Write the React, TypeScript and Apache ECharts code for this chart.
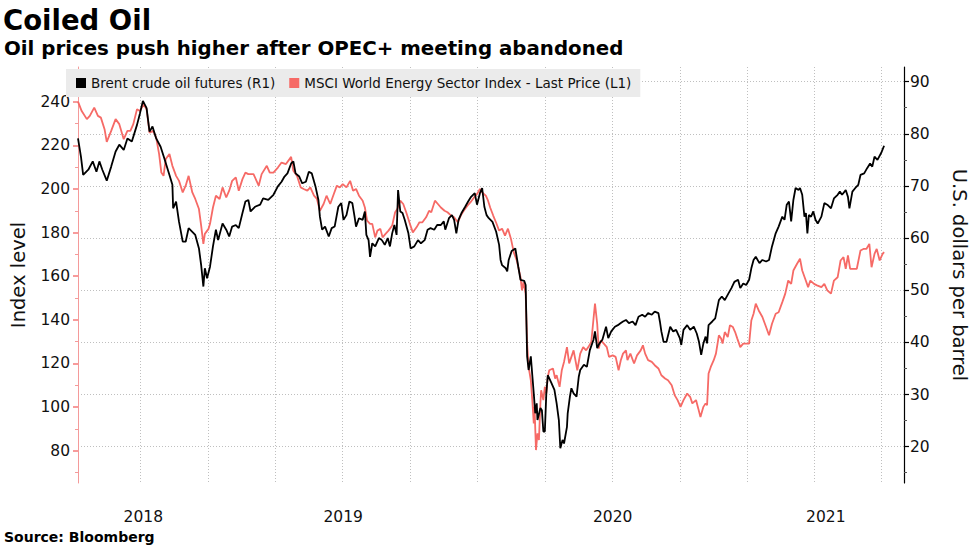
import React, { useEffect, useRef } from "react";
import * as echarts from "echarts";

// ---- data ----
const baseDate = "2018-07-08"; // day offsets below are counted from this date
const axisStart = "2018-07-08";
const axisEnd = "2021-08-01";

const brentDays = [
  0, 4, 7, 14, 20, 25, 29, 33, 39, 45, 51, 56, 62, 67, 73, 80, 84, 88, 93, 97, 101, 106, 112, 117, 124, 128, 129, 133, 137, 142, 146, 150, 155, 159, 164, 167, 170, 172, 175,
  179, 183, 187, 190, 196, 201, 205, 209, 214, 218, 223, 227, 231, 234, 240, 247, 251, 258, 265, 271, 276, 280, 284, 289, 292, 295, 300, 304, 309, 313, 317, 322, 326, 328, 331, 335, 340, 344, 348, 353, 357, 360, 364, 368,
  372, 375, 377, 381, 386, 389, 391, 394, 396, 399, 403, 408, 412, 416, 420, 423, 426, 429, 432, 434, 437, 440, 443, 448, 451, 456, 461, 465, 470, 474, 478, 483, 487, 492, 496, 498, 503, 507, 510, 513, 516, 520, 525, 529, 533, 538, 541, 545, 548, 551, 554, 557, 562, 567, 571,
  573, 575, 580, 582, 584, 588, 593, 597, 600, 605, 607, 609, 611, 614, 616, 618, 620, 622, 623, 627, 629, 631, 633, 635, 637, 642, 646, 649, 652, 654, 657, 659, 663, 664, 667, 669, 672, 676, 679, 681, 686, 690, 694, 699, 701, 704, 707, 711, 716, 719, 723, 728, 732, 736, 739,
  743, 747, 752, 756, 760, 765, 769, 773, 778, 782, 787, 789, 791, 794, 798, 803, 807, 811, 816, 818, 821, 826, 830, 835, 839, 842, 845, 848, 851, 853, 855, 860, 864, 869, 873, 877, 882, 886, 890, 895, 898, 902, 906, 910, 913, 916,
  919, 924, 928, 933, 937, 941, 946, 950, 955, 958, 961, 964, 967, 970, 973, 977, 979, 982, 985, 987, 989, 991, 994, 997, 1000, 1003, 1008, 1012, 1016, 1021, 1025, 1030, 1033, 1036, 1041, 1044, 1046, 1050, 1054, 1058, 1061, 1066, 1070, 1074, 1077, 1080, 1084, 1089, 1093,
];
const brentValues = [
  79.1, 75.6, 72.1, 73.1, 74.7, 72.7, 74.7, 73.1, 71.0, 73.7, 76.6, 77.9, 76.9, 79.1, 78.5, 81.7, 83.9, 86.3, 84.9, 80.4, 81.4, 79.1, 77.5, 75.3, 72.1, 70.2, 65.7, 67.0, 63.1, 59.3, 59.3, 61.9, 61.2, 60.6, 58.0, 54.8, 50.7, 54.2, 52.3,
  54.5, 58.4, 61.6, 59.6, 62.8, 61.6, 60.3, 62.2, 62.5, 61.9, 64.8, 67.0, 67.3, 65.1, 66.0, 66.4, 67.6, 67.3, 68.3, 69.9, 70.8, 71.8, 72.4, 74.3, 74.7, 72.4, 71.8, 70.5, 70.8, 72.7, 72.4, 69.9, 67.3, 64.1, 61.6, 62.2, 60.3, 61.9, 62.2, 66.0, 66.7, 63.5, 64.4, 67.0,
  66.7, 64.1, 62.2, 63.8, 63.5, 65.1, 60.6, 59.6, 56.4, 59.0, 58.4, 60.0, 59.6, 58.7, 60.0, 58.4, 60.9, 62.5, 60.6, 69.2, 65.1, 64.8, 63.5, 60.9, 58.0, 58.4, 59.6, 59.0, 59.6, 61.6, 61.9, 61.6, 62.5, 62.5, 63.2, 61.6, 63.8, 64.4, 63.5, 60.9, 63.5, 64.8, 66.0, 67.0, 67.9, 68.6, 66.4, 68.6, 69.6, 66.0, 64.4, 63.8, 63.1, 61.2, 58.7,
  55.8, 54.8, 54.2, 53.6, 55.8, 57.5, 58.0, 54.5, 52.0, 51.8, 51.0, 37.3, 34.7, 37.3, 33.7, 30.2, 26.4, 28.3, 25.1, 27.4, 27.0, 22.9, 22.9, 30.2, 33.7, 32.2, 30.9, 28.3, 25.1, 19.7, 21.3, 20.6, 23.8, 26.4, 29.6, 31.2, 30.2, 29.6, 33.4, 34.7, 35.7, 35.3, 38.5, 40.5, 42.1, 38.9, 39.8, 40.5, 43.0, 40.8, 42.1, 43.0, 43.3, 43.7, 44.0,
  44.3, 43.7, 44.0, 43.3, 44.9, 45.3, 44.9, 45.6, 45.3, 45.9, 45.6, 44.0, 42.1, 40.1, 40.1, 43.0, 42.1, 42.4, 40.8, 39.5, 42.4, 43.3, 42.4, 43.0, 41.7, 40.1, 37.6, 39.8, 41.1, 39.8, 43.3, 44.0, 44.6, 48.1, 48.8, 48.1, 49.4, 50.4, 51.6, 52.0, 50.4, 51.3, 51.0, 52.0, 54.2, 55.8,
  56.4, 55.2, 55.8, 55.5, 55.8, 58.4, 60.9, 62.2, 64.1, 63.5, 66.4, 67.0, 63.2, 67.3, 69.6, 69.2, 69.6, 68.3, 64.1, 64.8, 60.9, 64.4, 64.1, 65.1, 63.5, 62.8, 64.1, 66.7, 66.4, 65.7, 67.6, 68.3, 68.9, 68.3, 69.2, 67.9, 65.7, 68.9, 69.6, 70.2, 72.1, 72.4, 73.4, 74.3, 73.7, 75.6, 75.0, 76.3, 77.7,
];

const msciDays = [
  0, 5, 12, 16, 22, 27, 31, 36, 39, 45, 51, 56, 62, 67, 71, 75, 80, 84, 89, 93, 97, 102, 106, 110, 113, 116, 119, 124, 128, 133, 137, 142, 146, 150, 155, 159, 164, 167, 170, 172, 177,
  179, 183, 187, 192, 196, 201, 205, 209, 214, 218, 223, 227, 231, 238, 245, 249, 256, 260, 265, 271, 276, 282, 289, 292, 297, 302, 306, 311, 315, 320, 324, 328, 333, 337, 342, 346, 351, 355, 359, 364,
  369, 373, 377, 381, 386, 389, 392, 396, 399, 403, 406, 410, 413, 417, 421, 426, 430, 433, 437, 441, 445, 450, 454, 459, 463, 467, 472, 476, 479, 484, 488, 492, 497, 501, 506, 510, 515, 519, 523, 528, 532, 537, 541, 545, 548, 553, 556, 559, 563, 567, 571, 575, 579, 583, 587, 591,
  595, 600, 602, 604, 607, 609, 611, 614, 616, 618, 619, 621, 623, 625, 627, 628, 631, 633, 635, 637, 639, 644, 647, 649, 653, 656, 659, 663, 666, 669, 672, 677, 681, 685, 689, 692, 696, 699, 701, 704, 706, 709, 713, 717, 720, 725, 729, 733, 736, 739,
  743, 745, 749, 754, 758, 763, 766, 769, 773, 778, 782, 787, 791, 796, 800, 805, 809, 813, 817, 821, 826, 830, 833, 838, 841, 844, 848, 851, 853, 855, 858, 862, 865, 869, 872, 874, 877, 881, 884, 888, 891, 894, 898, 902, 906, 910, 913, 916, 919, 923,
  928, 933, 937, 941, 946, 950, 955, 959, 963, 967, 970, 975, 979, 982, 986, 990, 993, 998, 1002, 1008, 1012, 1016, 1021, 1025, 1030, 1034, 1038, 1041, 1044, 1047, 1052, 1056, 1061, 1065, 1069, 1073, 1076, 1080, 1083, 1087, 1091, 1093,
];
const msciValues = [
  240.0, 235.7, 232.0, 233.5, 237.3, 233.5, 232.7, 227.4, 221.6, 226.6, 232.0, 229.7, 222.8, 226.6, 226.6, 229.7, 236.5, 235.7, 238.8, 236.5, 225.8, 226.6, 223.5, 216.0, 207.5, 206.0, 213.7, 216.0, 210.6, 206.0, 203.7, 198.4, 201.5, 206.0, 198.4, 195.4, 190.8, 183.2, 174.8, 179.4, 181.7,
  184.0, 191.5, 196.9, 195.4, 200.7, 196.1, 199.2, 203.7, 205.3, 199.2, 204.5, 207.5, 206.8, 206.8, 201.5, 206.8, 210.6, 207.5, 207.5, 209.8, 212.1, 211.4, 214.7, 208.3, 206.0, 200.7, 200.0, 199.2, 200.7, 196.9, 195.4, 190.0, 193.1, 196.9, 193.1, 196.9, 201.5, 200.7, 202.2, 200.7,
  203.7, 199.2, 200.0, 196.9, 194.6, 191.5, 185.5, 184.0, 184.0, 177.8, 180.9, 181.7, 177.8, 179.4, 180.9, 183.2, 189.3, 190.8, 194.6, 193.1, 189.3, 184.0, 180.1, 182.4, 184.7, 184.7, 187.0, 190.0, 189.3, 194.6, 193.1, 191.5, 190.0, 189.3, 187.8, 187.0, 184.7, 187.8, 190.0, 192.3, 193.8, 196.1, 197.6, 200.0, 198.4, 196.9, 194.6, 191.4, 187.8, 184.5, 180.9, 181.8, 178.6, 181.8, 177.2, 170.8,
  167.2, 159.5, 153.5, 157.3, 152.0, 129.1, 118.4, 112.3, 103.2, 92.5, 100.1, 80.3, 88.0, 84.9, 101.7, 107.7, 103.2, 109.3, 106.2, 113.8, 116.9, 117.7, 113.1, 114.6, 109.3, 116.9, 120.7, 127.5, 120.0, 123.0, 126.0, 116.9, 124.5, 127.5, 126.0, 127.5, 129.8, 140.5, 147.4, 138.2, 126.8, 130.6, 129.1, 127.5, 123.0, 123.7, 123.0, 116.9, 121.5, 124.5,
  126.0, 121.5, 124.5, 120.0, 123.7, 126.0, 128.3, 124.5, 121.5, 120.7, 119.2, 117.7, 114.6, 113.1, 112.3, 110.0, 105.5, 103.2, 100.1, 103.2, 106.2, 104.7, 101.7, 103.2, 99.4, 95.5, 100.1, 101.7, 100.9, 115.4, 118.4, 121.5, 124.5, 132.9, 131.4, 129.1, 134.4, 132.1, 137.5, 136.7, 134.4, 131.4, 127.5, 129.1, 129.1, 129.1, 139.7, 142.8, 147.4, 144.3,
  141.3, 136.7, 132.9, 138.2, 142.8, 143.5, 148.1, 152.0, 158.0, 156.5, 162.6, 165.7, 168.0, 162.6, 158.8, 155.0, 158.0, 156.5, 155.8, 155.0, 156.5, 153.5, 152.0, 158.0, 159.5, 167.2, 168.7, 163.4, 169.5, 163.4, 163.4, 163.4, 171.8, 172.5, 172.5, 174.8, 164.1, 170.2, 172.5, 167.2, 170.2, 171.0,
];

const quarterStarts = [
  "2018-10-01", "2019-01-01", "2019-04-01", "2019-07-01", "2019-10-01", "2020-01-01",
  "2020-04-01", "2020-07-01", "2020-10-01", "2021-01-01", "2021-04-01", "2021-07-01",
];
const years = [2018, 2019, 2020, 2021];
const leftTicks = [80, 100, 120, 140, 160, 180, 200, 220, 240];
const rightTicks = [20, 30, 40, 50, 60, 70, 80, 90];

const titleText = "Coiled Oil";
const subtitleText = "Oil prices push higher after OPEC+ meeting abandoned";
const sourceText = "Source: Bloomberg";
const brentName = "Brent crude oil futures (R1)";
const msciName = "MSCI World Energy Sector Index - Last Price (L1)";

const ts = (s: string) => Date.parse(s + "T00:00:00Z");
const DAY = 86400000;

export default function App() {
  const ref = useRef<HTMLDivElement>(null);
  useEffect(() => {
    if (!ref.current) return;
    const chart = echarts.init(ref.current, undefined, { renderer: "svg" });
    const base = ts(baseDate);
    const startTs = ts(axisStart);
    const endTs = ts(axisEnd);
    const yearMids = years.map((y) => {
      const s = Math.max(Date.UTC(y, 0, 1), startTs);
      const e = Math.min(Date.UTC(y + 1, 0, 1), endTs);
      return (s + e) / 2;
    });
    const font = "DejaVu Sans";
    const gridLine = { color: "#bfbfbf", type: [1, 2], width: 1 };
    const brentData = brentDays.map((d, i) => [base + d * DAY, brentValues[i]]);
    const msciData = msciDays.map((d, i) => [base + d * DAY, msciValues[i]]);

    chart.setOption({
      animation: false,
      backgroundColor: "#ffffff",
      textStyle: { fontFamily: font },
      title: [
        { text: titleText, left: 3, top: 6, padding: 0, textStyle: { fontFamily: font, fontWeight: "bold", fontSize: 27.5, color: "#000" } },
        { text: subtitleText, left: 4, top: 38, padding: 0, textStyle: { fontFamily: font, fontWeight: "bold", fontSize: 19.8, color: "#000" } },
        { text: sourceText, left: 4, top: 530, padding: 0, textStyle: { fontFamily: font, fontWeight: "bold", fontSize: 14, color: "#000" } },
      ],
      legend: {
        left: 66,
        top: 69,
        padding: [7, 9, 7, 10],
        backgroundColor: "#ebebeb",
        icon: "rect",
        itemWidth: 10,
        itemHeight: 10,
        itemGap: 14,
        data: [brentName, msciName],
        textStyle: { fontFamily: font, fontSize: 13.5, color: "#111" },
      },
      grid: { left: 65, right: 65, top: 67, bottom: 66, containLabel: false },
      xAxis: {
        type: "value",
        min: startTs,
        max: endTs,
        axisLine: { show: false },
        axisTick: { show: false, customValues: quarterStarts.map(ts) },
        axisLabel: {
          customValues: yearMids,
          formatter: (v: number) => String(new Date(v).getUTCFullYear()),
          margin: 26,
          fontFamily: font,
          fontSize: 15.5,
          color: "#111",
        },
        splitLine: { show: true, lineStyle: gridLine },
      },
      yAxis: [
        {
          type: "value",
          position: "left",
          min: 65.2,
          max: 255.9,
          minInterval: 20,
          maxInterval: 20,
          name: "Index level",
          nameLocation: "middle",
          nameRotate: 90,
          nameGap: 50,
          nameTextStyle: { fontFamily: font, fontSize: 19.5, color: "#111" },
          axisLine: { show: true, lineStyle: { color: "#f49a9a", width: 1 } },
          axisTick: { show: true, length: 5, customValues: leftTicks, lineStyle: { color: "#f47a7a", width: 1.5 } },
          minorTick: { show: true, splitNumber: 2, length: 3, lineStyle: { color: "#f49a9a", width: 1 } },
          axisLabel: { customValues: leftTicks, margin: 8, fontFamily: font, fontSize: 15.5, color: "#111" },
          splitLine: { show: false },
        },
        {
          type: "value",
          position: "right",
          min: 13.03,
          max: 92.8,
          minInterval: 10,
          maxInterval: 10,
          name: "U.S. dollars per barrel",
          nameLocation: "middle",
          nameRotate: -90,
          nameGap: 45,
          nameTextStyle: { fontFamily: font, fontSize: 19.5, color: "#111" },
          axisLine: { show: true, lineStyle: { color: "#000", width: 1.2 } },
          axisTick: { show: true, length: 5, customValues: rightTicks, lineStyle: { color: "#000", width: 1.2 } },
          minorTick: { show: true, splitNumber: 2, length: 3, lineStyle: { color: "#555", width: 1 } },
          axisLabel: { customValues: rightTicks, margin: 6, fontFamily: font, fontSize: 15.5, color: "#111" },
          splitLine: { show: true, lineStyle: gridLine },
        },
      ],
      series: [
        {
          name: msciName,
          type: "line",
          yAxisIndex: 0,
          data: msciData,
          showSymbol: false,
          symbol: "none",
          color: "#f66a66",
          lineStyle: { color: "#f66a66", width: 1.8 },
          z: 2,
        },
        {
          name: brentName,
          type: "line",
          yAxisIndex: 1,
          data: brentData,
          showSymbol: false,
          symbol: "none",
          color: "#000000",
          lineStyle: { color: "#000000", width: 1.8 },
          z: 3,
        },
      ],
    });
    return () => chart.dispose();
  }, []);
  return <div ref={ref} style={{ position: "fixed", left: 0, top: 0, width: 977, height: 549, background: "#fff" }} />;
}
